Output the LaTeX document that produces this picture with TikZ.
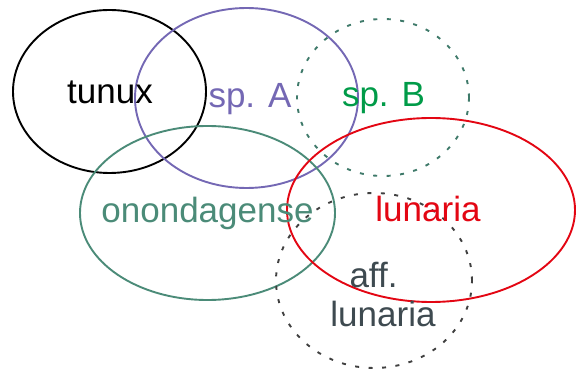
\documentclass[tikz,border=0pt]{standalone}
\usepackage{fontspec}
\setmainfont{Liberation Sans}
\usetikzlibrary{shapes.geometric}
\definecolor{cpurple}{HTML}{7468B4}
\definecolor{cgreen}{HTML}{009B48}
\definecolor{cteal}{HTML}{4B8B78}
\definecolor{cteald}{HTML}{3F7A6A}
\definecolor{cred}{HTML}{E30613}
\definecolor{cgray}{HTML}{3E4A50}
\definecolor{cgrayd}{HTML}{404040}
\begin{document}
\begin{tikzpicture}[x=1pt,y=-1pt,
  oval/.style={ellipse,draw,line width=1.9pt,inner sep=0pt,outer sep=0pt},
  dots/.style={dash pattern=on 4pt off 9.5pt},
  lbl/.style={font=\fontsize{35}{40}\selectfont,anchor=base,inner sep=0pt}]
\useasboundingbox (0,0) rectangle (576,371);
\node[oval,black,minimum width=193pt,minimum height=163pt] (tunux) at (109.5,91.5) {};
\node[oval,cpurple,minimum width=223pt,minimum height=180pt] (spA) at (246.5,98) {};
\node[oval,cteald,dots,minimum width=172pt,minimum height=157pt] (spB) at (383,97.5) {};
\node[oval,cteal,minimum width=255pt,minimum height=174pt] (onon) at (207.5,213) {};
\node[oval,cred,minimum width=288pt,minimum height=184pt] (lun) at (431,210) {};
\node[oval,cgrayd,dots,minimum width=196pt,minimum height=175pt] (aff) at (374,280.5) {};
\node[lbl,black] (tt) at (110,104) {tunux};
\node[lbl,cpurple] (ta) at (250,108) {sp. A};
\node[lbl,cgreen] (tb) at (383.5,107) {sp. B};
\node[lbl,cteal] (to) at (207.5,223) {onondagense};
\node[lbl,cred] (tl) at (428,222) {lunaria};
\node[lbl,cgray] (tf1) at (373.5,288) {aff.};
\node[lbl,cgray] (tf2) at (383,327) {lunaria};
\end{tikzpicture}
\end{document}
